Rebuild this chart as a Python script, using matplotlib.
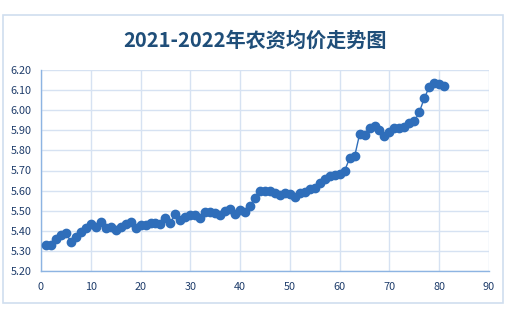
import matplotlib.pyplot as plt
import numpy as np
from matplotlib.patches import Rectangle

plt.rcParams['font.family'] = ['Noto Sans CJK SC', 'DejaVu Sans']

periodi = list(range(1, 82))
prezzi = [
    5.33, 5.33, 5.36, 5.38, 5.39, 5.345, 5.37, 5.395, 5.415, 5.435,
    5.42, 5.445, 5.415, 5.42, 5.405, 5.42, 5.435, 5.445, 5.415, 5.43,
    5.43, 5.44, 5.44, 5.435, 5.465, 5.44, 5.485, 5.455, 5.47, 5.48,
    5.48, 5.465, 5.495, 5.495, 5.49, 5.48, 5.50, 5.51, 5.485, 5.505,
    5.495, 5.525, 5.565, 5.60, 5.60, 5.60, 5.59, 5.58, 5.59, 5.585,
    5.57, 5.59, 5.595, 5.61, 5.615, 5.64, 5.66, 5.675, 5.68, 5.685,
    5.70, 5.76, 5.77, 5.88, 5.875, 5.91, 5.92, 5.90, 5.87, 5.89,
    5.91, 5.91, 5.915, 5.935, 5.945, 5.99, 6.06, 6.115, 6.135, 6.13,
    6.12,
]
titolo = "2021-2022年农资均价走势图"
x_ticks = list(range(0, 91, 10))
y_ticks = [5.20, 5.30, 5.40, 5.50, 5.60, 5.70, 5.80, 5.90, 6.00, 6.10, 6.20]

blu = '#2F6EBA'
testo = '#1F3D6B'

fig = plt.figure(figsize=(5.10, 3.09), dpi=100)
# bordo esterno del grafico
fig.patches.append(Rectangle((3 / 510, 1 - 303 / 309), 500 / 510, 288 / 309,
                             transform=fig.transFigure, fill=False,
                             edgecolor='#D0DEEF', linewidth=1.2))

ax = fig.add_axes([41 / 510, 1 - 271 / 309, 448 / 510, 201 / 309])
ax.plot(periodi, prezzi, color=blu, linewidth=1.0, marker='o',
        markersize=6, markerfacecolor=blu, markeredgecolor=blu, zorder=3)

ax.set_xlim(0, 90)
ax.set_ylim(5.20, 6.20)
ax.set_xticks(x_ticks)
ax.set_yticks(y_ticks)
ax.set_yticklabels([f"{v:.2f}" for v in y_ticks])
ax.grid(True, color='#D6E2F2', linewidth=1.0)
ax.set_axisbelow(True)
for lato in ['top', 'right']:
    ax.spines[lato].set_visible(False)
for lato in ['left', 'bottom']:
    ax.spines[lato].set_color('#8DB4E2')
    ax.spines[lato].set_linewidth(1.0)
ax.tick_params(length=0, labelsize=7.8, labelcolor=testo)
ax.tick_params(axis='y', pad=7)
ax.tick_params(axis='x', pad=8)

fig.text(0.5, 1 - 40 / 309, titolo, ha='center', va='center',
         fontsize=14.5, fontweight='bold', color='#1F4E79')

fig.savefig('out.png', dpi=100)
